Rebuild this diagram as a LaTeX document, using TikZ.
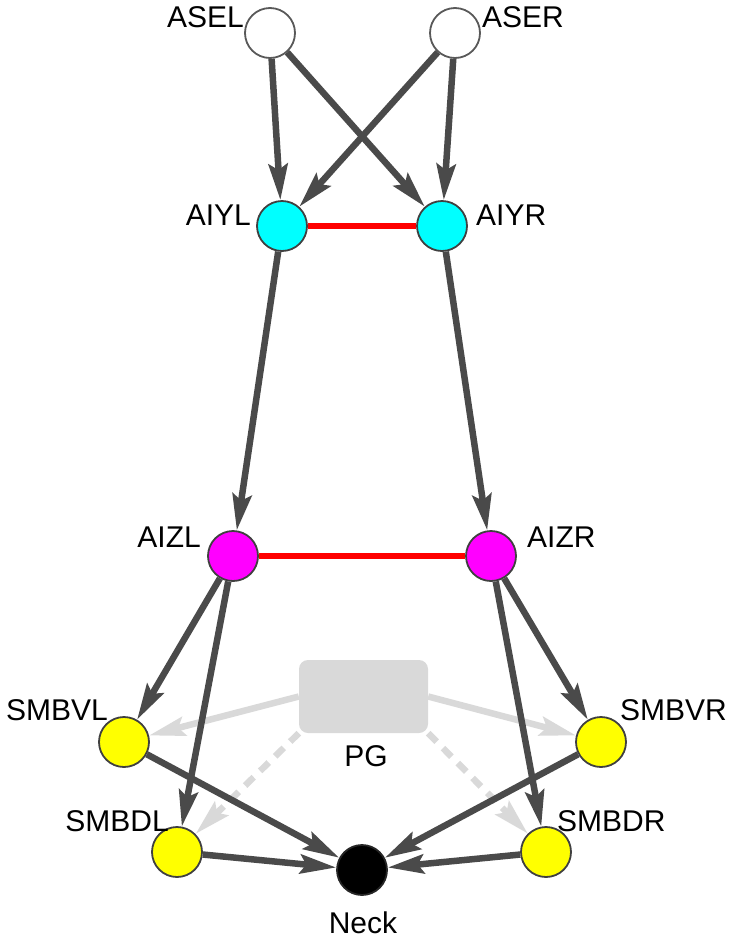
\documentclass[tikz,border=0pt]{standalone}
\usepackage{fontspec}
\setmainfont{Liberation Sans}
\usetikzlibrary{arrows.meta}

\definecolor{edgegray}{RGB}{74,74,74}
\definecolor{pggray}{RGB}{217,217,217}
\definecolor{nodecyan}{RGB}{0,255,255}
\definecolor{nodemagenta}{RGB}{255,0,255}
\definecolor{nodeyellow}{RGB}{255,255,0}

\begin{document}
\begin{tikzpicture}[x=1pt,y=-1pt,
font=\fontsize{30}{36}\selectfont,
neuron/.style={circle, draw=black!75, line width=1.8pt, minimum size=50pt, inner sep=0pt},
sensorynode/.style={neuron, draw=black!65, fill=white},
aiynode/.style={neuron, fill=nodecyan},
aiznode/.style={neuron, fill=nodemagenta},
motornode/.style={neuron, fill=nodeyellow},
necknode/.style={neuron, draw=black!85, fill=black},
pgbox/.style={rectangle, fill=pggray, rounded corners=9pt, minimum width=129pt, minimum height=73pt},
lbl/.style={inner sep=0pt},
syn/.style={-{Stealth[length=36pt,width=19pt,inset=6pt]}, line width=6.5pt, draw=edgegray},
gap/.style={line width=6.5pt, draw=red},
pgsyn/.style={-{Stealth[length=36pt,width=19pt,inset=6pt]}, line width=6.5pt, draw=pggray},
pgdash/.style={pgsyn, dash pattern=on 12pt off 9pt}
]
\useasboundingbox (0,0) rectangle (735,940);

%Nodes
\node[sensorynode] at (270,33) (ASEL) {};
\node[sensorynode] at (455,33) (ASER) {};
\node[aiynode] at (282,226) (AIYL) {};
\node[aiynode] at (442,226) (AIYR) {};
\node[aiznode] at (233,556) (AIZL) {};
\node[aiznode] at (491,556) (AIZR) {};
\node[pgbox] at (363.5,696.5) (PG) {};
\node[motornode] at (124,742) (SMBVL) {};
\node[motornode] at (601,742) (SMBVR) {};
\node[motornode] at (177,852) (SMBDL) {};
\node[motornode] at (546,852) (SMBDR) {};
\node[necknode] at (362,870) (Neck) {};

%Labels
\node[lbl, anchor=base east] at (244,27) (ASEL-txt) {ASEL};
\node[lbl, anchor=base west] at (482,27) (ASER-txt) {ASER};
\node[lbl, anchor=base east] at (251,225) (AIYL-txt) {AIYL};
\node[lbl, anchor=base west] at (476,225) (AIYR-txt) {AIYR};
\node[lbl, anchor=base east] at (201,547) (AIZL-txt) {AIZL};
\node[lbl, anchor=base west] at (527,547) (AIZR-txt) {AIZR};
\node[lbl, anchor=base] at (366,766) (PG-txt) {PG};
\node[lbl, anchor=base east] at (108,720) (SMBVL-txt) {SMBVL};
\node[lbl, anchor=base west] at (620,720) (SMBVR-txt) {SMBVR};
\node[lbl, anchor=base east] at (169,831) (SMBDL-txt) {SMBDL};
\node[lbl, anchor=base west] at (557,831) (SMBDR-txt) {SMBDR};
\node[lbl, anchor=base] at (363,933) (Neck-txt) {Neck};

%Lines
\draw[pgsyn] (PG.west) -- (SMBVL);
\draw[pgsyn] (PG.east) -- (SMBVR);
\draw[pgdash] (PG.south west) -- (SMBDL);
\draw[pgdash] (PG.south east) -- (SMBDR);

\draw[syn] (ASEL) -- (AIYL);
\draw[syn] (ASEL) -- (AIYR);
\draw[syn] (ASER) -- (AIYL);
\draw[syn] (ASER) -- (AIYR);
\draw[gap] (AIYL) -- (AIYR);
\draw[syn] (AIYL) -- (AIZL);
\draw[syn] (AIYR) -- (AIZR);
\draw[gap] (AIZL) -- (AIZR);
\draw[syn] (AIZL) -- (SMBVL);
\draw[syn] (AIZL) -- (SMBDL);
\draw[syn] (AIZR) -- (SMBVR);
\draw[syn] (AIZR) -- (SMBDR);
\draw[syn] (SMBVL) -- (Neck);
\draw[syn] (SMBDL) -- (Neck);
\draw[syn] (SMBVR) -- (Neck);
\draw[syn] (SMBDR) -- (Neck);

\end{tikzpicture}
\end{document}
